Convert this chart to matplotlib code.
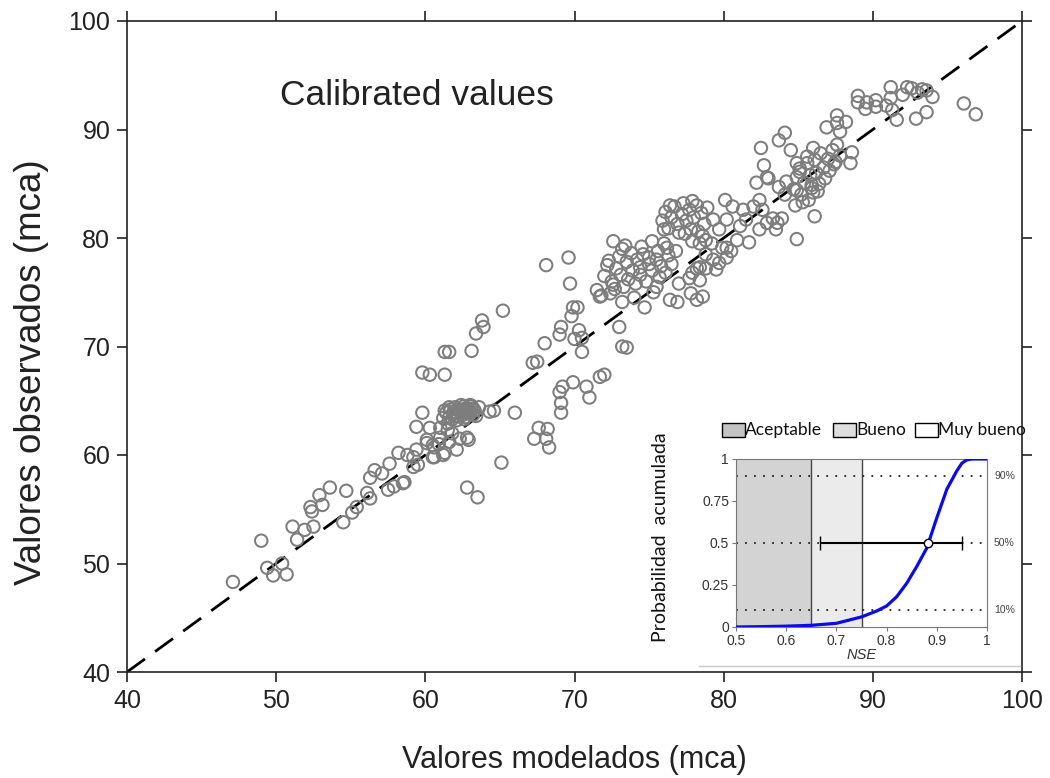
import matplotlib
matplotlib.use("Agg")
import matplotlib.pyplot as plt
from matplotlib.patches import Rectangle
from matplotlib.lines import Line2D

# ---------------- data (modelado, observado) ----------------
pts_low = [(47.1,48.3),(49.0,52.1),(49.4,49.6),(49.8,48.9),(50.4,50.0),(50.7,49.0),(51.1,53.4),
           (51.4,52.2),(51.9,53.1),(52.3,55.2),(52.4,54.8),(52.5,53.4),(52.9,56.3),(53.1,55.4),
           (53.6,57.0),(54.5,53.8),(54.7,56.7),(55.1,54.7),(55.4,55.2),(56.1,56.5),(56.3,56.0),
           (56.3,57.9),(56.6,58.6),(57.1,58.3),(57.5,56.8),(57.6,59.2),(57.9,57.1),(58.5,57.4),
           (58.2,60.2),(58.8,60.0),(58.6,57.5)]
pts_60 = [(59.2,59.8),(59.4,60.5),(59.2,58.9),(59.5,59.1),(59.4,62.6),(59.8,63.9),(60.3,62.5),
          (60.1,61.4),(60.5,60.9),(60.6,59.8),(61.3,60.2),(62.1,60.5),(61.0,62.5),(61.5,62.3),
          (62.8,61.6),(62.9,61.4),(61.0,61.6),(60.6,60.7),(60.1,61.1),(61.2,60.0),(60.5,59.8),
          (61.8,62.0),(62.3,61.5),(60.9,61.0),(61.6,61.2),(62.8,57.0),(63.5,56.1),(65.1,59.3),
          (63.6,64.4),(64.3,64.0),(64.6,64.1),(66.0,63.9)]
pts_blob = [(61.2,63.4),(61.4,63.9),(61.6,63.5),(61.7,64.2),(61.9,63.8),(62.0,64.4),(62.2,63.6),
            (62.3,64.1),(62.5,63.9),(62.6,64.5),(62.7,63.5),(62.9,64.2),(63.0,63.8),(63.1,64.5),
            (63.3,64.1),(63.4,63.6),(62.1,63.2),(61.5,62.9),(62.4,64.6),(62.8,64.0),(63.2,64.3),
            (61.9,64.0),(62.6,63.3),(61.3,64.1),(63.0,64.6),(61.8,63.3),(62.2,64.2),(62.5,63.7),
            (62.9,63.9),(61.6,64.4),(62.0,63.6),(63.2,63.7),(62.7,64.3)]
pts_up = [(65.2,73.3),(63.8,72.4),(63.9,71.8),(63.4,71.2),(61.3,69.5),(61.6,69.5),(63.1,69.6),
          (59.8,67.6),(60.3,67.4),(61.3,67.4)]
pts_67 = [(67.6,62.5),(68.2,62.4),(67.3,61.5),(68.1,61.5),(68.3,60.7),(67.2,68.5),(67.5,68.6),
          (68.0,70.3),(69.0,71.1),(69.1,71.8),(69.8,72.8),(69.9,73.6),(70.2,73.6),(70.3,71.5),
          (70.5,70.8),(70.0,70.7),(70.5,69.5),(73.0,71.8),(73.2,70.0),(73.5,69.9),(69.0,65.8),
          (69.2,66.3),(69.9,66.7),(69.1,64.8),(69.1,63.9),(70.8,66.3),(71.0,65.3),(71.7,67.2),
          (72.0,67.4),(68.1,77.5),(69.6,78.2),(69.7,75.8),(71.5,75.2),(71.8,74.7),(72.4,74.9),
          (72.6,75.7),(73.2,74.1),(74.7,73.6)]
pts_mid = [(72.6,79.7),(73.2,79.0),(72.2,77.5),(71.7,74.6),(75.2,79.7),(76.2,79.1),(76.8,78.8),
           (74.6,78.5),(75.6,78.8),(74.4,77.3),(75.0,77.6),(75.7,76.4),(75.5,75.5),(76.4,74.3),
           (76.9,74.1),(77.0,75.8),(77.8,74.9),(78.2,74.3),(78.6,74.6),(78.4,76.1),(77.7,76.3),
           (78.2,77.2),(78.8,77.2),(79.5,77.1),(79.7,77.7),(79.3,78.0),(80.2,78.2),(80.5,78.8),
           (79.9,79.1),(79.2,79.5),(78.8,78.5),(78.4,79.5),(77.9,79.7),(78.4,77.3),(77.9,76.8)]
pts_center = [(72.0,76.5),(72.3,77.9),(72.5,76.0),(72.8,77.2),(73.0,78.3),(73.1,76.6),(73.3,75.5),
              (73.5,77.8),(73.6,76.2),(73.8,78.6),(73.9,77.0),(74.1,75.8),(74.2,78.0),(74.4,76.6),
              (74.5,79.2),(74.8,76.0),(75.0,78.2),(75.2,77.0),(75.3,75.0),(75.5,78.0),(75.8,77.4),
              (76.0,79.5),(76.1,76.8),(76.3,78.4),(76.5,77.6),(73.4,79.3),(72.7,75.3),(74.0,74.5)]
pts_top = [(75.9,81.6),(76.1,82.4),(76.3,80.9),(76.5,81.9),(76.7,82.9),(76.9,81.3),(77.0,80.5),
           (77.2,82.2),(77.3,83.2),(77.5,81.6),(77.7,82.6),(77.8,80.8),(78.0,81.9),(78.2,83.0),
           (78.3,80.6),(78.5,82.3),(78.7,81.3),(78.9,82.8),(76.4,83.0),(77.9,83.4),(78.6,80.2),
           (76.0,80.8),(77.4,80.4),(80.6,82.9),(80.2,81.7),(79.3,81.7),(79.7,80.8),(78.8,79.8),
           (80.1,83.5),(81.3,82.6),(82.0,82.9),(82.4,83.5),(82.6,82.6),(83.3,81.8),(83.6,81.4),
           (83.5,80.8),(82.9,81.4),(82.4,80.8),(81.5,81.7),(81.1,81.1),(80.9,79.8),(80.2,79.1),
           (81.7,79.6),(84.9,79.9),(83.9,81.8),(86.1,82.0)]
pts_85 = [(82.5,88.3),(83.7,89.0),(84.1,89.7),(84.5,88.1),(82.7,86.7),(82.9,85.6),(82.2,85.1),
          (83.7,84.7),(84.2,85.2),(84.1,84.0),(84.9,86.9),(85.6,87.5),(83.0,85.5),(84.9,84.4),
          (85.9,84.9),(85.7,83.5),(85.1,86.1),(86.0,84.2),(88.6,87.9),(88.5,86.9),(87.4,86.8),
          (87.6,91.3),(87.6,90.6),(87.8,89.8),(88.2,90.7),(86.9,90.2),
          (84.7,84.5),(84.9,85.6),(85.1,86.4),(85.2,84.0),(85.4,85.1),(85.6,86.9),(85.8,85.8),
          (85.9,84.6),(86.1,87.2),(86.2,86.0),(86.4,85.0),(86.5,87.8),(86.7,86.5),(86.8,85.5),
          (87.0,87.3),(87.1,86.2),(87.3,88.1),(87.5,87.0),(87.6,88.6),(86.0,88.3),(85.3,83.3),
          (84.8,83.0),(86.3,84.3),(87.8,87.6)]
pts_90 = [(89.0,93.1),(89.0,92.5),(89.6,92.5),(89.5,91.9),(90.2,92.7),(90.2,92.1),(90.9,92.2),
          (91.2,93.9),(91.2,92.9),(91.3,91.8),(91.6,90.9),(92.0,93.2),(92.3,93.9),(92.6,93.8),
          (93.0,93.4),(93.3,93.7),(93.6,93.6),(94.0,93.0),(93.6,91.6),(92.9,91.0),(96.1,92.4),
          (96.9,91.4)]

groups = [pts_low, pts_60, pts_blob, pts_up, pts_67, pts_mid, pts_center, pts_top, pts_85, pts_90]
modelados = [p[0] for g in groups for p in g]
observados = [p[1] for g in groups for p in g]

ref_line = [40, 100]
main_ticks = [40, 50, 60, 70, 80, 90, 100]

# inset: cumulative probability of NSE
nse_x = [0.50, 0.55, 0.60, 0.65, 0.70, 0.75, 0.78, 0.80, 0.82, 0.84, 0.86, 0.88, 0.90,
         0.92, 0.94, 0.95, 0.96, 0.97, 1.00]
prob_y = [0.0, 0.002, 0.005, 0.01, 0.022, 0.06, 0.095, 0.125, 0.18, 0.26, 0.36, 0.47, 0.65,
          0.82, 0.93, 0.975, 0.995, 1.0, 1.0]
nse_median = 0.883
nse_p10, nse_p90 = 0.667, 0.95
pct_levels = [0.1, 0.5, 0.9]
pct_labels = ['10%', '50%', '90%']
classes = ['Aceptable', 'Bueno', 'Muy bueno']
class_bounds = [0.5, 0.65, 0.75, 1.0]
class_colors = ['#d3d3d3', '#ebebeb', '#ffffff']
legend_colors = ['#c4c4c4', '#dedede', '#ffffff']

# ---------------- figure ----------------
W, H = 1050, 778
fig = plt.figure(figsize=(W/100, H/100), dpi=100)
plt.rcParams['font.family'] = ['Liberation Sans', 'DejaVu Sans']

def fx(px): return px / W
def fy(py): return 1 - py / H

ax = fig.add_axes([fx(127), fy(672), (1022-127)/W, (672-21)/H])
ax.plot(ref_line, ref_line, color='black', lw=2.0, linestyle=(0, (8, 4.5)), zorder=2)
ax.scatter(modelados, observados, s=80, facecolors='none', edgecolors='#7d7d7d',
           linewidths=1.45, zorder=3)
ax.set_xlim(40, 100)
ax.set_ylim(40, 100)
ax.set_xticks(main_ticks)
ax.set_yticks(main_ticks)
ax.tick_params(direction='out', length=7, width=1.2, top=True, right=True,
               labelsize=18, pad=5, color='#222222', labelcolor='#222222')
for s in ax.spines.values():
    s.set_linewidth(1.2)
    s.set_color('#222222')
ax.set_xlabel('Valores modelados (mca)', fontsize=22, color='#222222')
ax.xaxis.set_label_coords(0.5, -0.112)
ax.set_ylabel('Valores observados (mca)', fontsize=26.5, color='#222222')
ax.yaxis.set_label_coords(-0.087, 0.461)
ax.text(0.171, 0.885, 'Calibrated values', transform=ax.transAxes, fontsize=25.5,
        color='#222222', ha='left', va='center')

# inset background
fig.add_artist(Rectangle((fx(700), fy(668)), 320/W, (668-412)/H, transform=fig.transFigure,
                         facecolor='white', edgecolor='none', zorder=2))
fig.add_artist(Line2D([fx(699), fx(1020)], [fy(666), fy(666)], transform=fig.transFigure,
                      color='#c8c8c8', lw=1, zorder=2.5))

ins = fig.add_axes([fx(736), fy(627), (987-736)/W, (627-459)/H], zorder=5)
for i in range(3):
    ins.axvspan(class_bounds[i], class_bounds[i+1], color=class_colors[i], lw=0, zorder=0)
for b in class_bounds[1:3]:
    ins.axvline(b, color='#444444', lw=1.0, zorder=1)
for p in pct_levels:
    ins.plot([0.5, 1.0], [p, p], color='#222222', lw=1.3, linestyle=(0, (1, 4)), zorder=2)
ins.plot(nse_x, prob_y, color='#0b0be8', lw=2.3, zorder=3, solid_capstyle='butt')
ins.errorbar(nse_median, 0.5, xerr=[[nse_median - nse_p10], [nse_p90 - nse_median]],
             fmt='o', mfc='white', mec='black', ms=6, mew=1, ecolor='black',
             elinewidth=1.5, capsize=4.7, capthick=1.5, zorder=4)
for p, lab in zip(pct_levels, pct_labels):
    ins.text(1.014, p, lab, fontsize=7.5, color='#444444', ha='left', va='center',
             clip_on=False)
ins.set_xlim(0.5, 1.0)
ins.set_ylim(0, 1)
ins.set_xticks([0.5, 0.6, 0.7, 0.8, 0.9, 1.0])
ins.set_xticklabels(['0.5', '0.6', '0.7', '0.8', '0.9', '1'])
ins.set_yticks([0, 0.25, 0.5, 0.75, 1.0])
ins.set_yticklabels(['0', '0.25', '0.5', '0.75', '1'])
ins.tick_params(direction='out', length=3, width=0.8, color='#777777', labelsize=10,
                labelcolor='#333333', pad=2)
for s in ins.spines.values():
    s.set_linewidth(0.8)
    s.set_color('#777777')
ins.set_xlabel('NSE', style='italic', fontsize=10.5, color='#333333', labelpad=0)

fig.text(fx(661), fy(537), 'Probabilidad  acumulada', rotation=90, ha='center', va='center',
         fontsize=14, family=['Lato', 'DejaVu Sans'], color='#111111', zorder=6)

# class legend
leg_patch_x = [722, 833, 915]
for px, lab, col in zip(leg_patch_x, classes, legend_colors):
    fig.add_artist(Rectangle((fx(px), fy(437)), 23/W, 14/H, transform=fig.transFigure,
                             facecolor=col, edgecolor='black', lw=1, zorder=6))
    fig.text(fx(px + 23), fy(430), lab, ha='left', va='center', fontsize=12.5,
             family=['Lato', 'DejaVu Sans'], color='#111111', zorder=6)

fig.savefig('out.png', dpi=100)
